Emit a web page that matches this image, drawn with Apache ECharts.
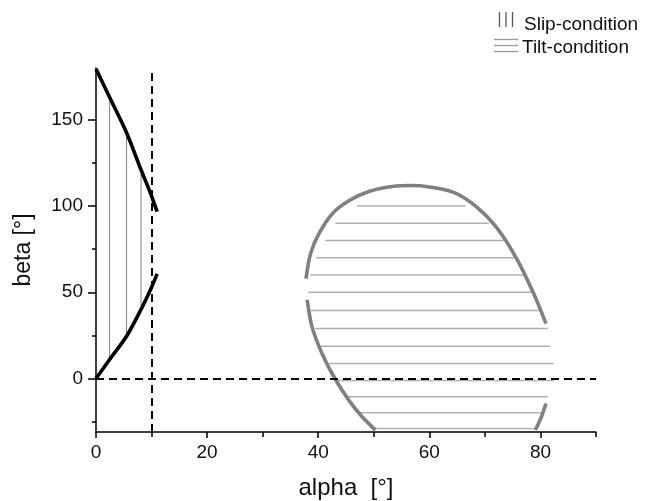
<!DOCTYPE html>
<html>
<head>
<meta charset="utf-8">
<script src="https://cdn.jsdelivr.net/npm/echarts@6/dist/echarts.min.js"></script>
<style>html,body{margin:0;padding:0;background:#fff}#c{width:646px;height:501px}</style>
</head>
<body>
<div id="c"></div>
<script>
// ---- data ----
const xTickValues = [0, 20, 40, 60, 80];
const xMinorTicks = [10, 30, 50, 70, 90];
const yTickValues = [0, 50, 100, 150];
const yMinorTicks = [-25, 25, 75, 125];

// slip boundary (black), upper and lower branch
const slipUpperAlpha = [0, 2.45, 5.5, 8.1, 9.8, 11.0];
const slipUpperBeta  = [179.5, 163, 142.5, 121, 107.5, 96.7];
const slipLowerAlpha = [0, 2.45, 5.5, 8.1, 9.8, 11.0];
const slipLowerBeta  = [0, 11, 24.5, 40, 51.5, 60.7];
// vertical hatch of slip region
const slipHatchAlpha = [2.45, 5.5, 8.1];
const slipHatchLow   = [11, 24.5, 40];
const slipHatchHigh  = [163, 142.5, 121];

// tilt boundary (grey), three pieces
const tiltArcAlpha = [37.8, 38.6, 40.1, 42.5, 45.5, 49.1, 53.3, 56.6, 58.4, 64.4, 68.6, 72.3, 75.9, 78.8, 81.0];
const tiltArcBeta  = [57.8, 72.2, 83.8, 95.4, 103, 108.4, 111.3, 111.9, 111.7, 107.9, 99.2, 86.7, 68.4, 49.1, 31.8];
const tiltLeftAlpha = [38.0, 38.9, 40.7, 43.0, 45.5, 47.9, 50.3];
const tiltLeftBeta  = [45.7, 29.8, 14.4, 0, -12.5, -22.2, -29.9];
const tiltRightAlpha = [81.0, 80.2, 79.1];
const tiltRightBeta  = [-14.5, -22, -29.9];
// horizontal hatch of tilt region
const tiltHatchBeta  = [100, 90, 80, 70, 60, 50, 39.5, 29, 18.7, 8.7, -1.2, -10.5, -19.8, -29];
const tiltHatchLeft  = [47.0, 43.1, 41.2, 39.6, 38.6, 38.2, 38.6, 39.5, 40.4, 41.9, 43.3, 45.2, 47.5, 50.0];
const tiltHatchRight = [66.5, 70.7, 73.4, 75.2, 77.0, 78.8, 79.9, 81.3, 81.7, 82.4, 82.4, 81.3, 80.4, 79.2];

const slipLimitAlpha = 10;
const zeroBeta = 0;

// ---- build ----
const zip = (xs, ys) => xs.map((x, i) => [x, ys[i]]);
const FONT = 'Liberation Sans, Arial, sans-serif';
const series = [];

// horizontal hatch
tiltHatchBeta.forEach((b, i) => {
  series.push({
    type: 'line', name: 'Tilt-condition', silent: true, symbol: 'none',
    data: [[tiltHatchLeft[i], b], [tiltHatchRight[i], b]],
    lineStyle: { color: '#b0b0b0', width: 1.5 }, itemStyle: { color: '#b0b0b0' }, z: 2
  });
});
// vertical hatch
slipHatchAlpha.forEach((a, i) => {
  series.push({
    type: 'line', name: 'Slip-condition', silent: true, symbol: 'none',
    data: [[a, slipHatchLow[i]], [a, slipHatchHigh[i]]],
    lineStyle: { color: '#808080', width: 1 }, itemStyle: { color: '#808080' }, z: 2
  });
});
// boundaries
const boundary = (xs, ys, color) => ({
  type: 'line', symbol: 'none', smooth: 0.3, silent: true,
  data: zip(xs, ys), lineStyle: { color: color, width: 3.6, cap: 'butt' }, z: 4
});
series.push(boundary(tiltArcAlpha, tiltArcBeta, '#808080'));
series.push(boundary(tiltLeftAlpha, tiltLeftBeta, '#808080'));
series.push(boundary(tiltRightAlpha, tiltRightBeta, '#808080'));
series.push(boundary(slipUpperAlpha, slipUpperBeta, '#000'));
series.push(boundary(slipLowerAlpha, slipLowerBeta, '#000'));

// dashed reference lines
series.push({
  type: 'line', data: [], silent: true,
  markLine: {
    silent: true, symbol: 'none', animation: false, label: { show: false },
    lineStyle: { color: '#000', width: 2, type: [8, 5] },
    data: [{ xAxis: slipLimitAlpha }, { yAxis: zeroBeta }]
  }, z: 3
});

const chart = echarts.init(document.getElementById('c'), null, { renderer: 'canvas' });
chart.setOption({
  animation: false,
  backgroundColor: '#fff',
  grid: { left: 96, top: 68, width: 500, height: 364, containLabel: false, outerBoundsMode: 'none' },
  xAxis: [{
    type: 'value', min: 0, max: 90, position: 'bottom',
    name: 'alpha  [°]', nameLocation: 'middle', nameGap: 44,
    nameTextStyle: { fontFamily: FONT, fontSize: 24, color: '#111' },
    axisLine: { show: true, onZero: false, lineStyle: { color: '#000', width: 1.5 } },
    axisTick: { show: true, length: 6, customValues: xTickValues, lineStyle: { color: '#000', width: 1.5 } },
    axisLabel: { customValues: xTickValues, margin: 11, fontFamily: FONT, fontSize: 19, color: '#111' },
    splitLine: { show: false }
  }, {
    type: 'value', min: 0, max: 90, position: 'bottom', offset: 0,
    axisLine: { show: false, onZero: false },
    axisTick: { show: true, length: 5, customValues: xMinorTicks, lineStyle: { color: '#000', width: 1.5 } },
    axisLabel: { show: false }, splitLine: { show: false }
  }],
  yAxis: [{
    type: 'value', min: -31, max: 180, position: 'left',
    name: 'beta [°]', nameLocation: 'middle', nameGap: 61,
    nameTextStyle: { fontFamily: FONT, fontSize: 23, color: '#111' },
    axisLine: { show: true, onZero: false, lineStyle: { color: '#000', width: 1.5 } },
    axisTick: { show: true, length: 8, customValues: yTickValues, lineStyle: { color: '#000', width: 1.5 } },
    axisLabel: { customValues: yTickValues, margin: 13, fontFamily: FONT, fontSize: 19, color: '#111' },
    splitLine: { show: false }
  }, {
    type: 'value', min: -31, max: 180, position: 'left', offset: 0,
    axisLine: { show: false, onZero: false },
    axisTick: { show: true, length: 4, customValues: yMinorTicks, lineStyle: { color: '#000', width: 1.5 } },
    axisLabel: { show: false }, splitLine: { show: false }
  }],
  series: series,
  graphic: [
    { type: 'line', shape: { x1: 499.5, y1: 12, x2: 499.5, y2: 27 }, style: { stroke: '#555', lineWidth: 1.3 } },
    { type: 'line', shape: { x1: 506, y1: 12, x2: 506, y2: 27 }, style: { stroke: '#555', lineWidth: 1.3 } },
    { type: 'line', shape: { x1: 512.5, y1: 12, x2: 512.5, y2: 27 }, style: { stroke: '#555', lineWidth: 1.3 } },
    { type: 'text', left: 524, top: 15, style: { text: 'Slip-condition', font: '19px ' + FONT, fill: '#111' } },
    { type: 'line', shape: { x1: 494, y1: 39.5, x2: 518, y2: 39.5 }, style: { stroke: '#999', lineWidth: 1.3 } },
    { type: 'line', shape: { x1: 494, y1: 45.5, x2: 518, y2: 45.5 }, style: { stroke: '#999', lineWidth: 1.3 } },
    { type: 'line', shape: { x1: 494, y1: 51.5, x2: 518, y2: 51.5 }, style: { stroke: '#999', lineWidth: 1.3 } },
    { type: 'text', left: 522, top: 38, style: { text: 'Tilt-condition', font: '19px ' + FONT, fill: '#111' } }
  ]
});
</script>
</body>
</html>
